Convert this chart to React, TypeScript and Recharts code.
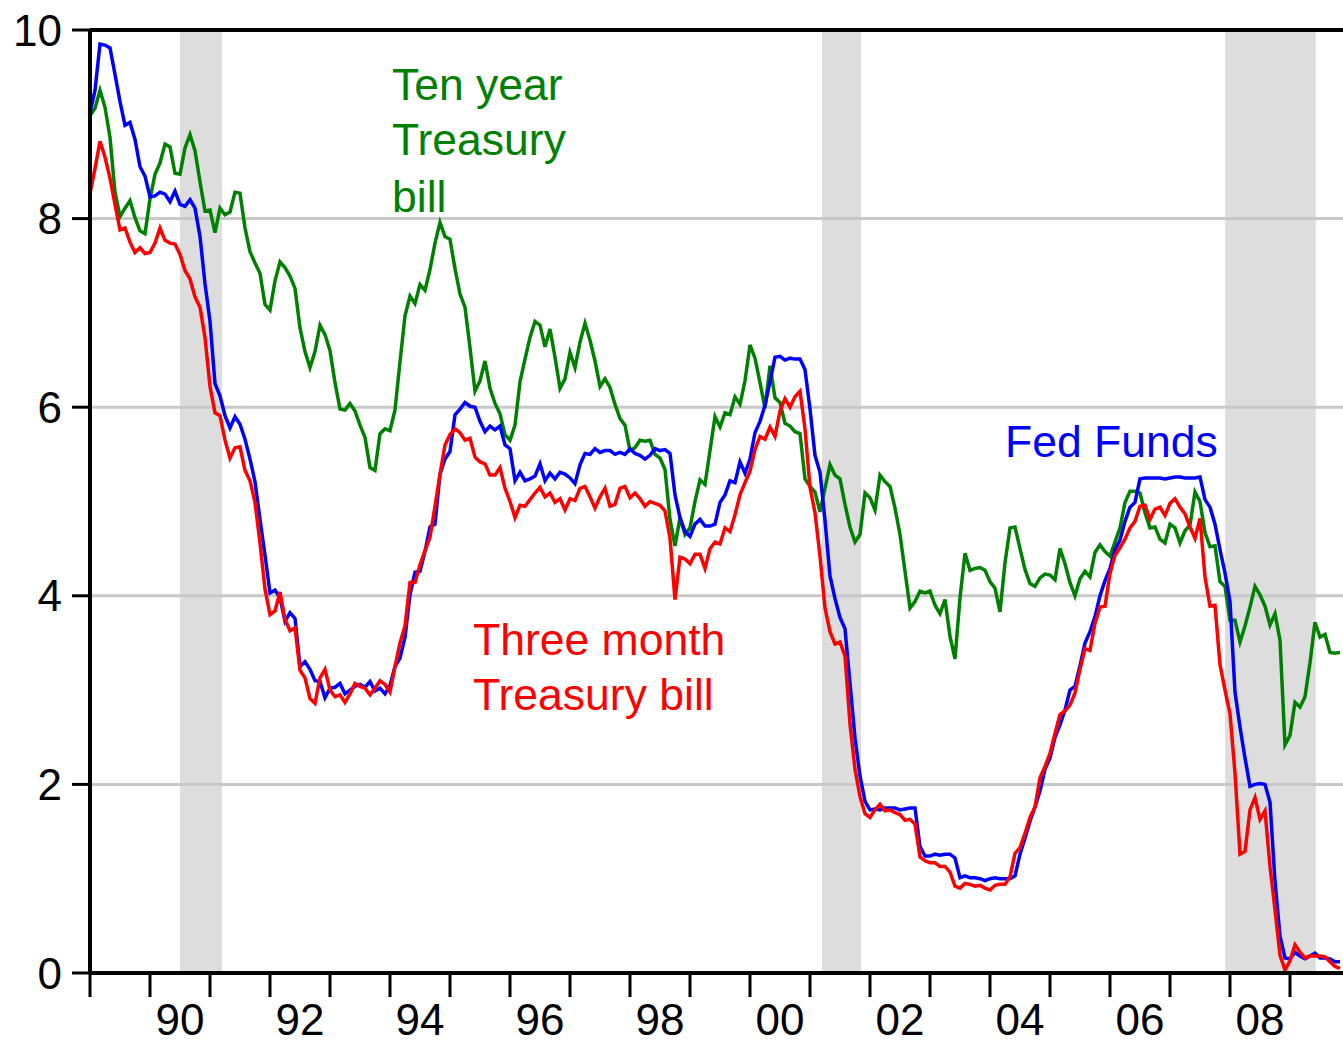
import React from 'react';
import {
  LineChart,
  Line,
  XAxis,
  YAxis,
  ReferenceArea,
  ReferenceLine,
} from 'recharts';

// monthly, Jan 1989 .. Nov 2009
const startYear = 1989;

const fedFunds = [
  9.12, 9.36, 9.85, 9.84, 9.81, 9.53, 9.24, 8.99, 9.02, 8.84, 8.55, 8.45,
  8.23, 8.24, 8.28, 8.26, 8.18, 8.29, 8.15, 8.13, 8.2, 8.11, 7.81, 7.31,
  6.91, 6.25, 6.12, 5.91, 5.78, 5.9, 5.82, 5.66, 5.45, 5.21, 4.81, 4.43,
  4.03, 4.06, 3.98, 3.73, 3.82, 3.76, 3.25, 3.3, 3.22, 3.1, 3.09, 2.92,
  3.02, 3.03, 3.07, 2.96, 3.0, 3.04, 3.06, 3.03, 3.09, 2.99, 3.02, 2.96,
  3.05, 3.25, 3.34, 3.56, 4.01, 4.25, 4.26, 4.47, 4.73, 4.76, 5.29, 5.45,
  5.53, 5.92, 5.98, 6.05, 6.01, 6.0, 5.85, 5.74, 5.8, 5.76, 5.8, 5.6,
  5.56, 5.22, 5.31, 5.22, 5.24, 5.27, 5.4, 5.22, 5.3, 5.24, 5.31, 5.29,
  5.25, 5.19, 5.39, 5.51, 5.5, 5.56, 5.52, 5.54, 5.54, 5.5, 5.52, 5.5,
  5.56, 5.51, 5.49, 5.45, 5.49, 5.56, 5.54, 5.55, 5.51, 5.07, 4.83, 4.68,
  4.63, 4.76, 4.81, 4.74, 4.74, 4.76, 4.99, 5.07, 5.22, 5.2, 5.42, 5.3,
  5.45, 5.73, 5.85, 6.02, 6.27, 6.53, 6.54, 6.5, 6.52, 6.51, 6.51, 6.4,
  5.98, 5.49, 5.31, 4.8, 4.21, 3.97, 3.77, 3.65, 3.07, 2.49, 2.09, 1.82,
  1.73, 1.74, 1.73, 1.75, 1.75, 1.75, 1.73, 1.74, 1.75, 1.75, 1.34, 1.24,
  1.24, 1.26, 1.25, 1.26, 1.26, 1.22, 1.01, 1.03, 1.01, 1.01, 1.0, 0.98,
  1.0, 1.01, 1.0, 1.0, 1.0, 1.03, 1.26, 1.43, 1.61, 1.76, 1.93, 2.16,
  2.28, 2.5, 2.63, 2.79, 3.0, 3.04, 3.26, 3.5, 3.62, 3.78, 4.0, 4.16,
  4.29, 4.49, 4.59, 4.79, 4.94, 4.99, 5.24, 5.25, 5.25, 5.25, 5.25, 5.24,
  5.25, 5.26, 5.26, 5.25, 5.25, 5.25, 5.26, 5.02, 4.94, 4.76, 4.49, 4.24,
  3.94, 2.98, 2.61, 2.28, 1.98, 2.0, 2.01, 2.0, 1.81, 0.97, 0.39, 0.16,
  0.15, 0.22, 0.18, 0.15, 0.18, 0.21, 0.16, 0.16, 0.15, 0.12, 0.12,
];

const threeMonth = [
  8.27, 8.53, 8.82, 8.65, 8.43, 8.15, 7.88, 7.9, 7.75, 7.64, 7.69, 7.63,
  7.64, 7.74, 7.9, 7.77, 7.74, 7.73, 7.62, 7.45, 7.36, 7.17, 7.06, 6.74,
  6.22, 5.94, 5.91, 5.65, 5.46, 5.57, 5.58, 5.33, 5.22, 4.99, 4.56, 4.07,
  3.8, 3.84, 4.04, 3.75, 3.63, 3.66, 3.21, 3.13, 2.91, 2.86, 3.13, 3.22,
  3.0, 2.93, 2.95, 2.87, 2.96, 3.07, 3.04, 3.02, 2.95, 3.02, 3.1, 3.06,
  2.98, 3.25, 3.5, 3.68, 4.14, 4.14, 4.33, 4.48, 4.62, 4.95, 5.29, 5.6,
  5.71, 5.77, 5.73, 5.65, 5.67, 5.47, 5.42, 5.4, 5.28, 5.28, 5.36, 5.14,
  5.0, 4.83, 4.96, 4.95, 5.02, 5.09, 5.15, 5.05, 5.09, 4.99, 5.03, 4.91,
  5.03, 5.01, 5.14, 5.16, 5.05, 4.93, 5.05, 5.14, 4.95, 4.97, 5.14, 5.16,
  5.04, 5.09, 5.03, 4.95, 5.0, 4.98, 4.96, 4.9, 4.61, 3.96, 4.41, 4.39,
  4.34, 4.44, 4.44, 4.29, 4.5, 4.57, 4.55, 4.72, 4.68, 4.86, 5.07, 5.2,
  5.32, 5.55, 5.69, 5.66, 5.79, 5.69, 5.96, 6.09, 6.0, 6.11, 6.17, 5.77,
  5.15, 4.88, 4.42, 3.87, 3.62, 3.49, 3.51, 3.36, 2.64, 2.16, 1.87, 1.69,
  1.65, 1.73, 1.79, 1.72, 1.73, 1.7, 1.68, 1.62, 1.63, 1.58, 1.23, 1.19,
  1.17, 1.17, 1.13, 1.13, 1.07, 0.92, 0.9, 0.95, 0.94, 0.92, 0.93, 0.9,
  0.88, 0.93, 0.94, 0.94, 1.02, 1.27, 1.33, 1.48, 1.65, 1.76, 2.07, 2.19,
  2.33, 2.54, 2.74, 2.78, 2.84, 2.97, 3.22, 3.44, 3.42, 3.71, 3.88, 3.89,
  4.24, 4.43, 4.51, 4.6, 4.72, 4.79, 4.95, 4.96, 4.81, 4.92, 4.94, 4.85,
  4.98, 5.03, 4.94, 4.87, 4.73, 4.61, 4.82, 4.2, 3.89, 3.9, 3.27, 3.0,
  2.75, 2.12, 1.26, 1.29, 1.73, 1.86, 1.63, 1.72, 1.13, 0.67, 0.19, 0.03,
  0.13, 0.3, 0.22, 0.16, 0.18, 0.18, 0.18, 0.17, 0.12, 0.07, 0.05,
];

const tenYear = [
  9.09, 9.17, 9.36, 9.18, 8.86, 8.28, 8.02, 8.11, 8.19, 8.01, 7.87, 7.84,
  8.21, 8.47, 8.59, 8.79, 8.76, 8.48, 8.47, 8.75, 8.89, 8.72, 8.39, 8.08,
  8.09, 7.85, 8.11, 8.04, 8.07, 8.28, 8.27, 7.9, 7.65, 7.53, 7.42, 7.09,
  7.03, 7.34, 7.54, 7.48, 7.39, 7.26, 6.84, 6.59, 6.42, 6.59, 6.87, 6.77,
  6.6, 6.26, 5.98, 5.97, 6.04, 5.96, 5.81, 5.68, 5.36, 5.33, 5.72, 5.77,
  5.75, 5.97, 6.48, 6.97, 7.18, 7.1, 7.3, 7.24, 7.46, 7.74, 7.96, 7.81,
  7.78, 7.47, 7.2, 7.06, 6.63, 6.17, 6.28, 6.49, 6.2, 6.04, 5.93, 5.71,
  5.65, 5.81, 6.27, 6.51, 6.74, 6.91, 6.87, 6.64, 6.83, 6.53, 6.2, 6.3,
  6.58, 6.42, 6.69, 6.89, 6.71, 6.49, 6.22, 6.3, 6.21, 6.03, 5.88, 5.81,
  5.54, 5.57, 5.65, 5.64, 5.65, 5.5, 5.46, 5.34, 4.81, 4.53, 4.83, 4.65,
  4.72, 5.0, 5.23, 5.18, 5.54, 5.9, 5.79, 5.94, 5.92, 6.11, 6.03, 6.28,
  6.66, 6.52, 6.26, 5.99, 6.44, 6.1, 6.05, 5.83, 5.8, 5.74, 5.72, 5.24,
  5.16, 5.1, 4.89, 5.14, 5.39, 5.28, 5.24, 4.97, 4.73, 4.57, 4.65, 5.09,
  5.04, 4.91, 5.28, 5.21, 5.16, 4.93, 4.65, 4.26, 3.87, 3.94, 4.05, 4.03,
  4.05, 3.9, 3.81, 3.96, 3.57, 3.33, 3.98, 4.45, 4.27, 4.29, 4.3, 4.27,
  4.15, 4.08, 3.83, 4.35, 4.72, 4.73, 4.5, 4.28, 4.13, 4.1, 4.19, 4.23,
  4.22, 4.17, 4.5, 4.34, 4.14, 4.0, 4.18, 4.26, 4.2, 4.46, 4.54, 4.47,
  4.42, 4.57, 4.72, 4.99, 5.11, 5.11, 5.09, 4.88, 4.72, 4.73, 4.6, 4.56,
  4.76, 4.72, 4.56, 4.69, 4.75, 5.1, 5.0, 4.67, 4.52, 4.53, 4.15, 4.1,
  3.74, 3.74, 3.51, 3.68, 3.88, 4.1, 4.01, 3.89, 3.69, 3.81, 3.53, 2.42,
  2.52, 2.87, 2.82, 2.93, 3.29, 3.72, 3.56, 3.59, 3.4, 3.39, 3.4,
];

// NBER recessions, as fractional years
const recessionStart = [1990.5, 2001.2, 2007.92];
const recessionEnd = [1991.2, 2001.85, 2009.43];

const yearTicks = [
  1989, 1990, 1991, 1992, 1993, 1994, 1995, 1996, 1997, 1998, 1999,
  2000, 2001, 2002, 2003, 2004, 2005, 2006, 2007, 2008, 2009,
];
const yTicks = [0, 2, 4, 6, 8, 10];
const gridValues = [2, 4, 6, 8];

const data = fedFunds.map((v, i) => ({
  t: startYear + i / 12,
  fedFunds: v,
  threeMonth: threeMonth[i],
  tenYear: tenYear[i],
}));

const FONT = '"Liberation Sans", Arial, sans-serif';

const YearTick = (props: any) => {
  const { x, y, payload } = props;
  const yr = payload.value as number;
  if (yr % 2 !== 0) return <g />;
  return (
    <text
      x={x + 30}
      y={y + 36}
      textAnchor="middle"
      fontSize={44}
      fontFamily={FONT}
      fill="#000"
    >
      {String(yr).slice(2)}
    </text>
  );
};

export default function App() {
  return (
    <div style={{ position: 'absolute', left: 0, top: 0, width: 1343, height: 1043, background: '#fff' }}>
      <LineChart
        width={1343}
        height={1043}
        data={data}
        margin={{ top: 30, right: 0, left: 0, bottom: 0 }}
      >
        <XAxis
          dataKey="t"
          type="number"
          domain={[1989, 1989 + 1253 / 60]}
          allowDataOverflow
          ticks={yearTicks}
          tick={<YearTick />}
          tickSize={24}
          height={70}
          axisLine={{ stroke: '#000', strokeWidth: 4 }}
          tickLine={{ stroke: '#000', strokeWidth: 3 }}
          interval={0}
        />
        <YAxis
          type="number"
          domain={[0, 10]}
          ticks={yTicks}
          width={90}
          tickSize={18}
          tickMargin={10}
          axisLine={{ stroke: '#000', strokeWidth: 4 }}
          tickLine={{ stroke: '#000', strokeWidth: 3 }}
          tick={{ fontSize: 44, fill: '#000', fontFamily: FONT }}
          interval={0}
        />
        {recessionStart.map((s, i) => (
          <ReferenceArea
            key={'r' + i}
            x1={s}
            x2={recessionEnd[i]}
            y1={0}
            y2={10}
            fill="#DDDDDD"
            fillOpacity={1}
            stroke="none"
          />
        ))}
        {gridValues.map((g) => (
          <ReferenceLine key={'g' + g} y={g} stroke="#C8C8C8" strokeWidth={3} />
        ))}
        <ReferenceLine y={10} stroke="#000" strokeWidth={4} />
        <Line
          type="linear"
          dataKey="tenYear"
          stroke="#008000"
          strokeWidth={3.5}
          dot={false}
          isAnimationActive={false}
        />
        <Line
          type="linear"
          dataKey="fedFunds"
          stroke="#0000FF"
          strokeWidth={3.5}
          dot={false}
          isAnimationActive={false}
        />
        <Line
          type="linear"
          dataKey="threeMonth"
          stroke="#FF0000"
          strokeWidth={3.5}
          dot={false}
          isAnimationActive={false}
        />
      </LineChart>
      <svg
        width={1343}
        height={1043}
        style={{ position: 'absolute', left: 0, top: 0, pointerEvents: 'none' }}
        fontFamily={FONT}
        fontSize={44.5}
      >
        <text x={392} y={100} fill="#008000">Ten year</text>
        <text x={392} y={155} fill="#008000">Treasury</text>
        <text x={392} y={212} fill="#008000">bill</text>
        <text x={1005} y={457} fill="#0000FF">Fed Funds</text>
        <text x={473} y={655} fill="#FF0000">Three month</text>
        <text x={473} y={710} fill="#FF0000">Treasury bill</text>
      </svg>
    </div>
  );
}
